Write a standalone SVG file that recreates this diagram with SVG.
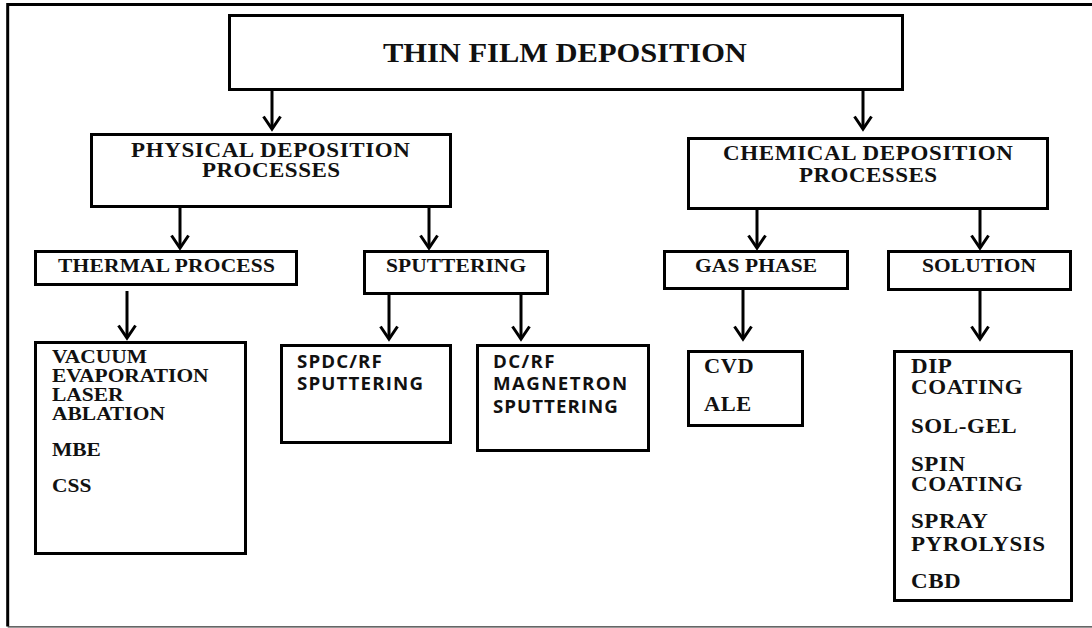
<svg xmlns="http://www.w3.org/2000/svg" width="1092" height="628" viewBox="0 0 1092 628">
<defs>
<marker id="arr" markerUnits="userSpaceOnUse" markerWidth="24" markerHeight="24" viewBox="0 0 24 24" refX="16" refY="12" orient="auto">
<path d="M3.5,3.5 L16,12 L3.5,20.5" fill="none" stroke="#000" stroke-width="3"/>
</marker>
</defs>
<style>
.box{fill:#fff;stroke:#000;stroke-width:3}
.s{font-family:"Liberation Serif","Times New Roman",serif;font-weight:bold;fill:#111}
.t27{font-size:27px}
.t20{font-size:20px}
.t19{font-size:19px}
.l20{font-size:20px;letter-spacing:0.5px}
.ss{font-family:"Open Sans","Liberation Sans",sans-serif;font-weight:bold;font-size:17px;fill:#111}
.c{stroke:#000;stroke-width:3;fill:none;marker-end:url(#arr)}
</style>
<rect width="1092" height="628" fill="#fff"/>
<g id="frame" fill="none" stroke="#000">
<path d="M1092,4.5 H7.7 V626.5" stroke-width="3"/>
<path d="M7.7,626.8 H1092" stroke-width="1.3" stroke="#333"/>
</g>
<g id="connectors">
<line class="c" x1="272" y1="90" x2="272" y2="129"/>
<line class="c" x1="863" y1="90" x2="863" y2="129"/>
<line class="c" x1="180" y1="207" x2="180" y2="248"/>
<line class="c" x1="429" y1="207" x2="429" y2="248"/>
<line class="c" x1="757" y1="209" x2="757" y2="248"/>
<line class="c" x1="980" y1="209" x2="980" y2="248"/>
<line class="c" x1="127" y1="291" x2="127" y2="338"/>
<line class="c" x1="389" y1="294" x2="389" y2="339"/>
<line class="c" x1="521" y1="294" x2="521" y2="339"/>
<line class="c" x1="743" y1="289" x2="743" y2="339"/>
<line class="c" x1="980" y1="290" x2="980" y2="339"/>
</g>
<g id="thin-film-deposition">
<rect class="box" x="229.5" y="15.5" width="673" height="74"/>
<g transform="translate(383 0) scale(1.13 1)"><text class="s t27" x="0" y="62" textLength="322" lengthAdjust="spacing">THIN FILM DEPOSITION</text></g>
</g>
<g id="physical">
<rect class="box" x="91.5" y="134.5" width="359" height="72"/>
<g transform="translate(131 0) scale(1.15 1)"><text class="s t20" x="0" y="157" textLength="242.6" lengthAdjust="spacing">PHYSICAL DEPOSITION</text></g>
<g transform="translate(202 0) scale(1.15 1)"><text class="s t20" x="0" y="177" textLength="120" lengthAdjust="spacing">PROCESSES</text></g>
</g>
<g id="chemical">
<rect class="box" x="688.5" y="138.5" width="359" height="70"/>
<g transform="translate(723 0) scale(1.15 1)"><text class="s t20" x="0" y="160" textLength="252" lengthAdjust="spacing">CHEMICAL DEPOSITION</text></g>
<g transform="translate(799 0) scale(1.15 1)"><text class="s t20" x="0" y="182" textLength="120" lengthAdjust="spacing">PROCESSES</text></g>
</g>
<g id="thermal">
<rect class="box" x="35.5" y="251.5" width="261" height="33"/>
<g transform="translate(58 0) scale(1.13 1)"><text class="s t19" x="0" y="272" textLength="192" lengthAdjust="spacing">THERMAL PROCESS</text></g>
</g>
<g id="sputtering">
<rect class="box" x="364.5" y="251.5" width="183" height="42"/>
<g transform="translate(386 0) scale(1.13 1)"><text class="s t19" x="0" y="272" textLength="124" lengthAdjust="spacing">SPUTTERING</text></g>
</g>
<g id="gas-phase">
<rect class="box" x="664.5" y="251.5" width="183" height="37"/>
<g transform="translate(695 0) scale(1.13 1)"><text class="s t19" x="0" y="272" textLength="108" lengthAdjust="spacing">GAS PHASE</text></g>
</g>
<g id="solution">
<rect class="box" x="888.5" y="251.5" width="182" height="38"/>
<g transform="translate(922 0) scale(1.13 1)"><text class="s t19" x="0" y="272" textLength="101" lengthAdjust="spacing">SOLUTION</text></g>
</g>
<g id="thermal-list">
<rect class="box" x="35.5" y="342.5" width="210" height="211"/>
<g transform="translate(52 0) scale(1.13 1)">
<text class="s t19" x="0" y="363">VACUUM</text>
<text class="s t19" x="0" y="382">EVAPORATION</text>
<text class="s t19" x="0" y="401">LASER</text>
<text class="s t19" x="0" y="420">ABLATION</text>
<text class="s t19" x="0" y="456">MBE</text>
<text class="s t19" x="0" y="492">CSS</text>
</g>
</g>
<g id="spdc-rf">
<rect class="box" x="281.5" y="345.5" width="169" height="97"/>
<g transform="translate(297 0) scale(1.1 1)">
<text class="ss" x="0" y="368" textLength="77" lengthAdjust="spacing">SPDC/RF</text>
<text class="ss" x="0" y="390" textLength="114.5" lengthAdjust="spacing">SPUTTERING</text>
</g>
</g>
<g id="dc-rf-magnetron">
<rect class="box" x="477.5" y="345.5" width="171" height="105"/>
<g transform="translate(493 0) scale(1.1 1)">
<text class="ss" x="0" y="368" textLength="56" lengthAdjust="spacing">DC/RF</text>
<text class="ss" x="0" y="390" textLength="122" lengthAdjust="spacing">MAGNETRON</text>
<text class="ss" x="0" y="413" textLength="113.5" lengthAdjust="spacing">SPUTTERING</text>
</g>
</g>
<g id="gas-list">
<rect class="box" x="688.5" y="351.5" width="114" height="74"/>
<g transform="translate(704 0) scale(1.12 1)">
<text class="s l20" x="0" y="373">CVD</text>
<text class="s l20" x="0" y="411">ALE</text>
</g>
</g>
<g id="solution-list">
<rect class="box" x="894.5" y="351.5" width="177" height="249"/>
<g transform="translate(911 0) scale(1.15 1)">
<text class="s l20" x="0" y="373">DIP</text>
<text class="s l20" x="0" y="394">COATING</text>
<text class="s l20" x="0" y="433">SOL-GEL</text>
<text class="s l20" x="0" y="471">SPIN</text>
<text class="s l20" x="0" y="491">COATING</text>
<text class="s l20" x="0" y="528">SPRAY</text>
<text class="s l20" x="0" y="551">PYROLYSIS</text>
<text class="s l20" x="0" y="588">CBD</text>
</g>
</g>
</svg>
